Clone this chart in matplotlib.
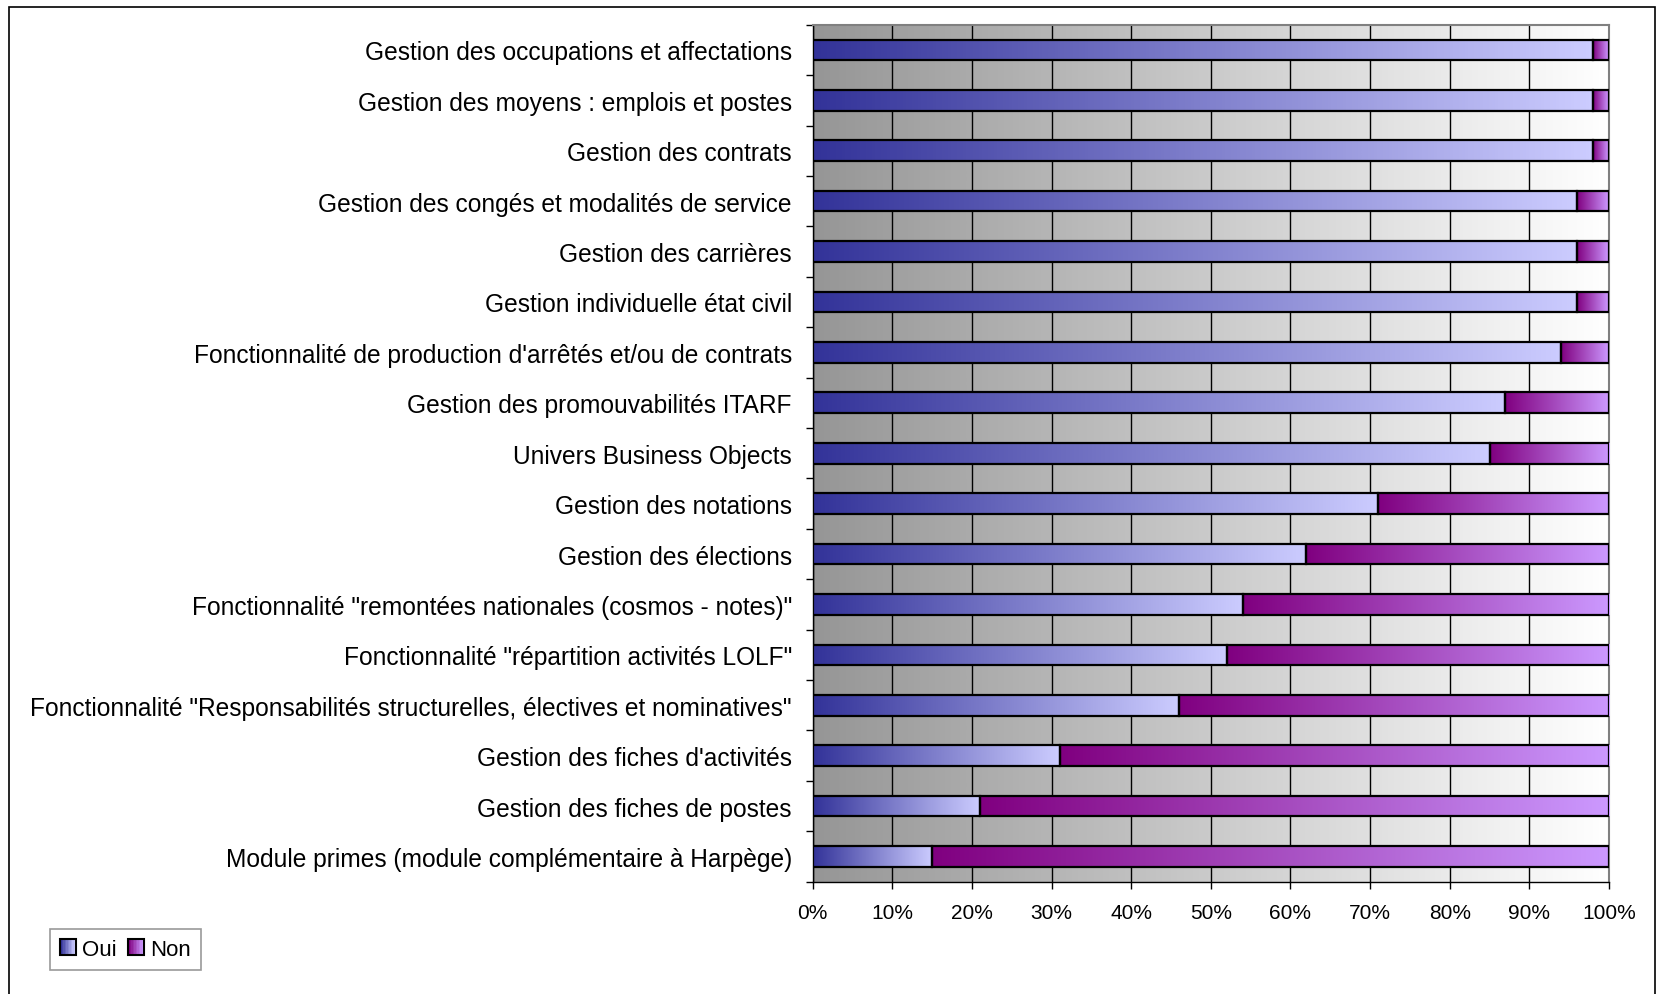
import numpy as np
import matplotlib
matplotlib.use("Agg")
import matplotlib.pyplot as plt
from matplotlib.colors import LinearSegmentedColormap
from matplotlib.patches import Rectangle
from matplotlib.legend_handler import HandlerBase

categories = [
    "Gestion des occupations et affectations",
    "Gestion des moyens : emplois et postes",
    "Gestion des contrats",
    "Gestion des congés et modalités de service",
    "Gestion des carrières",
    "Gestion individuelle état civil",
    "Fonctionnalité de production d'arrêtés et/ou de contrats",
    "Gestion des promouvabilités ITARF",
    "Univers Business Objects",
    "Gestion des notations",
    "Gestion des élections",
    "Fonctionnalité \"remontées nationales (cosmos - notes)\"",
    "Fonctionnalité \"répartition activités LOLF\"",
    "Fonctionnalité \"Responsabilités structurelles, électives et nominatives\"",
    "Gestion des fiches d'activités",
    "Gestion des fiches de postes",
    "Module primes (module complémentaire à Harpège)",
]
oui = [98, 98, 98, 96, 96, 96, 94, 87, 85, 71, 62, 54, 52, 46, 31, 21, 15]
non = [2, 2, 2, 4, 4, 4, 6, 13, 15, 29, 38, 46, 48, 54, 69, 79, 85]
series_names = ["Oui", "Non"]
xticks = [0, 10, 20, 30, 40, 50, 60, 70, 80, 90, 100]
xticklabels = [f"{v}%" for v in xticks]

plt.rcParams['font.family'] = ['Liberation Sans', 'DejaVu Sans']

W, H = 1661, 995
fig = plt.figure(figsize=(W / 100, H / 100), dpi=100)
fig.patch.set_facecolor("white")

# outer chart frame
fig.patches.append(Rectangle((8.5, -20), 1646, 995 - 7.5 + 20, transform=None,
                             fill=False, edgecolor="black", linewidth=1.2))

ax = fig.add_axes([812.7 / W, 1 - 882.7 / H, (1609 - 812.7) / W, (882.7 - 25.7) / H])

n = len(categories)
y = np.arange(n)
bar_h = 0.41

oui_cmap = LinearSegmentedColormap.from_list("oui", ["#333399", "#CCCCFF"])
non_cmap = LinearSegmentedColormap.from_list("non", ["#800080", "#CC99FF"])
bg_cmap = LinearSegmentedColormap.from_list("bg", ["#969696", "#FFFFFF"])

ax.set_xlim(0, 100)
ax.set_ylim(n - 0.5, -0.5)

# background gradient
grad = np.linspace(0, 1, 256).reshape(1, -1)
ax.imshow(grad, cmap=bg_cmap, aspect="auto", extent=(0, 100, n - 0.5, -0.5),
          zorder=0, interpolation="bicubic")

# vertical gridlines
for xv in xticks:
    ax.axvline(xv, color="black", linewidth=1.0, zorder=1)

oui_bars = ax.barh(y, oui, height=bar_h, color="none", edgecolor="black",
                   linewidth=1.6, zorder=4)
non_bars = ax.barh(y, non, left=oui, height=bar_h, color="none", edgecolor="black",
                   linewidth=1.6, zorder=4)

for bars, cmap in ((oui_bars, oui_cmap), (non_bars, non_cmap)):
    for b in bars:
        x0, w = b.get_x(), b.get_width()
        y0, h = b.get_y(), b.get_height()
        ax.imshow(grad, cmap=cmap, aspect="auto",
                  extent=(x0, x0 + w, y0 + h, y0), zorder=3,
                  interpolation="bicubic")

ax.set_xlim(0, 100)
ax.set_ylim(n - 0.5, -0.5)

ax.set_yticks(y)
ax.set_yticklabels(categories, fontsize=17.65)
ax.set_yticks(np.arange(n + 1) - 0.5, minor=True)
ax.tick_params(axis="y", which="major", length=0, pad=15)
ax.tick_params(axis="y", which="minor", length=5, width=1, color="black", left=True)

ax.set_xticks(xticks)
ax.set_xticklabels(xticklabels, fontsize=15)
ax.tick_params(axis="x", which="major", length=5, width=1, color="black", pad=10)

for s in ("top", "right"):
    ax.spines[s].set_color("#808080")
    ax.spines[s].set_linewidth(1.5)
for s in ("left", "bottom"):
    ax.spines[s].set_color("black")
    ax.spines[s].set_linewidth(1.0)


class GradHandler(HandlerBase):
    def __init__(self, c0, c1):
        super().__init__()
        self.cmap = LinearSegmentedColormap.from_list("h", [c0, c1])

    def create_artists(self, legend, orig_handle, xdescent, ydescent, width,
                       height, fontsize, trans):
        side = min(width, height)
        x0 = -xdescent + (width - side)
        y0 = -ydescent + (height - side) / 2
        arts = []
        k = 10
        for i in range(k):
            arts.append(Rectangle((x0 + side * i / k, y0), side / k + 0.05, side,
                                  facecolor=self.cmap(i / (k - 1)), edgecolor="none",
                                  transform=trans))
        arts.append(Rectangle((x0, y0), side, side, facecolor="none",
                              edgecolor="black", linewidth=1.5, transform=trans))
        return arts


h1 = Rectangle((0, 0), 1, 1)
h2 = Rectangle((0, 0), 1, 1)
leg = fig.legend([h1, h2], series_names, loc="lower left",
                 bbox_to_anchor=(50 / W, 1 - 971 / H), ncol=2,
                 handler_map={h1: GradHandler("#333399", "#CCCCFF"),
                              h2: GradHandler("#800080", "#CC99FF")},
                 fontsize=16, frameon=True, fancybox=False, edgecolor="#808080",
                 handlelength=0.7, handleheight=0.7, handletextpad=0.3,
                 columnspacing=0.5, borderpad=0.45, borderaxespad=0)
leg.get_frame().set_linewidth(1.2)

fig.savefig("out.png", dpi=100)
